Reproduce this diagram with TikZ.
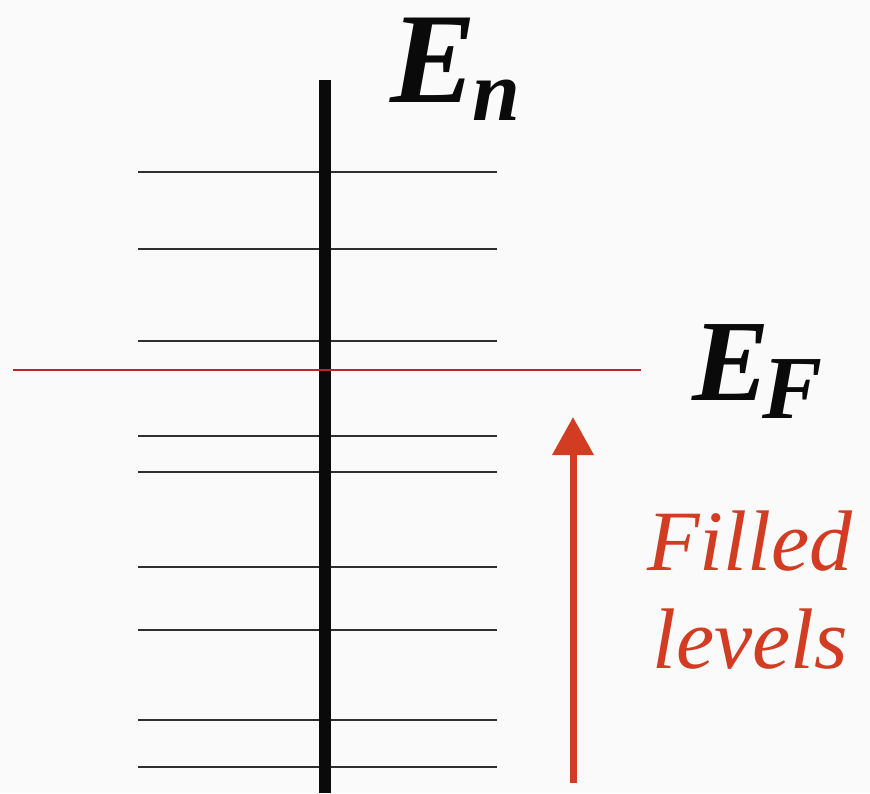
\documentclass[tikz,border=0pt]{standalone}
\usepackage{fontspec}
\setmainfont{Liberation Serif}
\usepackage{tikz}
\usetikzlibrary{
  arrows.meta,
  positioning
}
\definecolor{ink}{HTML}{0A0A0A}
\definecolor{paper}{HTML}{FAFAFA}
\definecolor{fermired}{HTML}{B8282A}
\definecolor{filledred}{HTML}{D23C22}
\tikzset{
  level/.style={
    draw=ink!85,
    line width=2pt
  },
  axisline/.style={
    draw=ink,
    line width=12pt
  },
  fermiline/.style={
    draw=fermired,
    line width=1.4pt
  },
  fillarrow/.style={
    -{Triangle[width=40pt,length=38pt]},
    line width=7pt,
    draw=filledred
  },
  biglabel/.style={
    inner sep=0pt,
    anchor=base west,
    text=ink,
    font=\bfseries\itshape
  },
  filltext/.style={
    inner sep=0pt,
    align=center,
    text=filledred,
    font=\itshape\fontsize{86}{98}\selectfont
  }
}

\begin{document}
\begin{tikzpicture}[x=1pt,y=-1pt]
  % Page and its margins.
  \useasboundingbox (0,0) rectangle (870,793);
  \fill[paper] (0,0) rectangle (870,793);

  % Energy levels, behind the axis.
  \foreach \y in {172,249,341,436,472,567,630,720,767}{
    \draw[level] (138,\y) -- (497,\y);
  }

  % Axis and Fermi level.
  \coordinate (axisbot) at (325,793);
  \coordinate (axistop) at (325,80);
  \draw[axisline] (axisbot) -- (axistop);
  \coordinate (fermiL) at (13,370);
  \coordinate (fermiR) at (641,370);
  \draw[fermiline] (fermiL) -- (fermiR);

  % Labels.
  \node[biglabel] (en) at (390,102)
    {\fontsize{129}{129}\selectfont E\kern-4pt\raisebox{-18pt}{\fontsize{86}{86}\selectfont n}};
  \node[biglabel] (ef) at (692,400)
    {\fontsize{116}{116}\selectfont E\kern-7pt\raisebox{-18pt}{\fontsize{90}{90}\selectfont F}};

  % Filled levels.
  \coordinate (arrowbot) at (573,783);
  \coordinate (arrowtop) at (573,417);
  \draw[fillarrow] (arrowbot) -- (arrowtop);
  \node[filltext, anchor=base] (filled) at (750,668) {Filled\\levels};
\end{tikzpicture}
\end{document}
